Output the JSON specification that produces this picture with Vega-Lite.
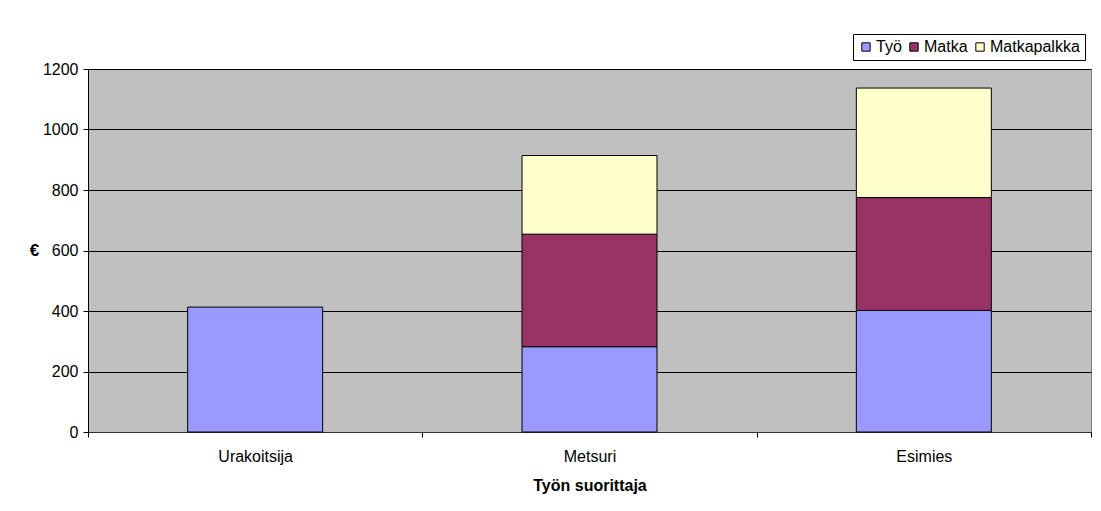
{
  "$schema": "https://vega.github.io/schema/vega-lite/v6.json",
  "autosize": {"type": "none"},
  "width": 1003,
  "height": 363,
  "padding": {"left": 88, "top": 69, "right": 10, "bottom": 79},
  "background": "white",
  "data": {
    "values": [
      {"tekija": "Urakoitsija", "kulu": "Työ", "arvo": 413, "jarj": 1},
      {"tekija": "Metsuri", "kulu": "Työ", "arvo": 282, "jarj": 1},
      {"tekija": "Metsuri", "kulu": "Matka", "arvo": 372, "jarj": 2},
      {"tekija": "Metsuri", "kulu": "Matkapalkka", "arvo": 260, "jarj": 3},
      {"tekija": "Esimies", "kulu": "Työ", "arvo": 402, "jarj": 1},
      {"tekija": "Esimies", "kulu": "Matka", "arvo": 373, "jarj": 2},
      {"tekija": "Esimies", "kulu": "Matkapalkka", "arvo": 362, "jarj": 3}
    ]
  },
  "mark": {"type": "bar", "width": 135, "stroke": "black", "strokeWidth": 1},
  "encoding": {
    "x": {
      "field": "tekija",
      "type": "nominal",
      "sort": ["Urakoitsija", "Metsuri", "Esimies"],
      "scale": {"paddingInner": 0, "paddingOuter": 0},
      "axis": {
        "title": "Työn suorittaja",
        "labelAngle": 0,
        "tickBand": "extent",
        "tickSize": 5,
        "tickColor": "black",
        "domainColor": "#333333",
        "labelPadding": 11,
        "titlePadding": 13,
        "labelFont": "Liberation Sans",
        "labelFontSize": 16,
        "labelColor": "black",
        "titleFont": "Liberation Sans",
        "titleFontSize": 16,
        "titleFontWeight": "bold",
        "titleColor": "black"
      }
    },
    "y": {
      "field": "arvo",
      "type": "quantitative",
      "stack": "zero",
      "scale": {"domain": [0, 1200], "nice": false},
      "axis": {
        "title": "€",
        "values": [0, 200, 400, 600, 800, 1000, 1200],
        "format": "d",
        "tickSize": 5,
        "tickColor": "black",
        "domainColor": "black",
        "gridColor": "black",
        "gridOpacity": 1,
        "labelPadding": 5,
        "labelFont": "Liberation Sans",
        "labelFontSize": 16,
        "labelColor": "black",
        "titleAngle": 0,
        "titleAlign": "center",
        "titleBaseline": "middle",
        "titleX": -54,
        "titleY": 181,
        "titleFont": "Liberation Sans",
        "titleFontSize": 17,
        "titleFontWeight": "bold",
        "titleColor": "black"
      }
    },
    "color": {
      "field": "kulu",
      "type": "nominal",
      "scale": {
        "domain": ["Työ", "Matka", "Matkapalkka"],
        "range": ["#9999FF", "#993366", "#FFFFCC"]
      },
      "legend": {
        "title": null,
        "orient": "none",
        "direction": "horizontal",
        "legendX": 765,
        "legendY": -35,
        "strokeColor": "black",
        "fillColor": "white",
        "padding": 5,
        "symbolType": "square",
        "symbolSize": 70,
        "symbolStrokeColor": "black",
        "symbolStrokeWidth": 1,
        "symbolOpacity": 1,
        "labelFont": "Liberation Sans",
        "labelFontSize": 16,
        "labelColor": "black",
        "labelOffset": 2,
        "columnPadding": 4
      }
    },
    "order": {"field": "jarj", "type": "quantitative"}
  },
  "config": {
    "view": {"fill": "#C0C0C0", "stroke": "#808080", "strokeWidth": 1}
  }
}
